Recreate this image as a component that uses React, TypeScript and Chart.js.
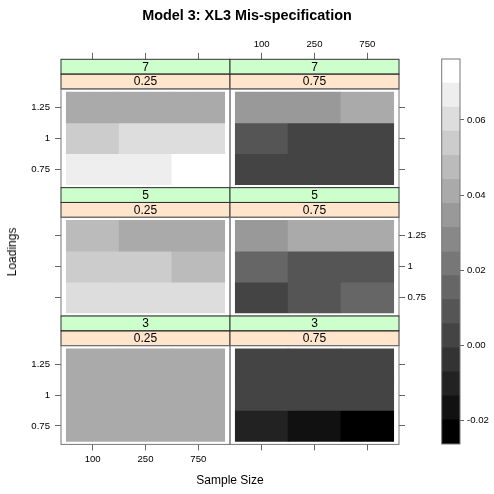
import { useEffect, useRef } from "react";
import { Chart, registerables } from "chart.js";

Chart.register(...registerables);

// ---------------- data ----------------
const sampleSizes = ["100", "250", "750"];
const loadings = [0.75, 1, 1.25];
const loadingLabels = ["0.75", "1", "1.25"];
const factorLevels = ["7", "5", "3"]; // outer strip (rows, top to bottom)
const commLevels = ["0.25", "0.75"]; // inner strip (columns, left to right)

// each: rows = loading 0.75, 1, 1.25 ; columns = sample size 100, 250, 750
const mis_7_025 = [
  [0.066, 0.065, 0.0762],
  [0.052, 0.059, 0.06],
  [0.04, 0.041, 0.04],
];
const mis_7_075 = [
  [0.002, 0.003, 0.002],
  [0.009, 0.003, 0.002],
  [0.034, 0.035, 0.041],
];
const mis_5_025 = [
  [0.06, 0.061, 0.06],
  [0.053, 0.054, 0.047],
  [0.047, 0.04, 0.041],
];
const mis_5_075 = [
  [0.003, 0.009, 0.015],
  [0.015, 0.009, 0.009],
  [0.034, 0.04, 0.041],
];
const mis_3_025 = [
  [0.041, 0.04, 0.041],
  [0.04, 0.041, 0.04],
  [0.041, 0.04, 0.041],
];
const mis_3_075 = [
  [-0.01, -0.017, -0.0262],
  [0.003, 0.002, 0.003],
  [0.003, 0.002, 0.002],
];

const colorbarTicks = [-0.02, 0, 0.02, 0.04, 0.06];
const colorbarLabels = ["-0.02", "0.00", "0.02", "0.04", "0.06"];
const nBands = 16;

// ---------------- layout / style ----------------
const SIZE = 494;
const FONT = "'Liberation Sans', Arial, Helvetica, sans-serif";
const colX = [61, 230, 399];
const gridTop = 59.3;
const gridBottom = 444.4;
const stripH = 14.8;
const rowH = (gridBottom - gridTop) / 3;
const tickFont = { family: FONT, size: 9.6 };

const panels = [
  { row: 0, col: 0, values: mis_7_025 },
  { row: 0, col: 1, values: mis_7_075 },
  { row: 1, col: 0, values: mis_5_025 },
  { row: 1, col: 1, values: mis_5_075 },
  { row: 2, col: 0, values: mis_3_025 },
  { row: 2, col: 1, values: mis_3_075 },
];

const allValues = panels.flatMap((p) => p.values.flat());
const zMin = Math.min(...allValues);
const zMax = Math.max(...allValues);
const bandOf = (v: number) =>
  Math.min(nBands - 1, Math.max(0, Math.floor(((v - zMin) / (zMax - zMin)) * nBands)));
const grayOf = (k: number) => {
  const g = Math.round((k * 255) / (nBands - 1));
  return `rgb(${g},${g},${g})`;
};

const loadStep = loadings[1] - loadings[0];

function panelDecor(p: { row: number; col: number }) {
  return {
    id: "panelDecor",
    afterDraw(chart: any) {
      const { ctx, chartArea: a } = chart;
      const w = a.right - a.left;
      const sTop = a.top - 2 * stripH;
      ctx.save();
      ctx.fillStyle = "#ccffcc";
      ctx.fillRect(a.left, sTop, w, stripH);
      ctx.fillStyle = "#ffe5cc";
      ctx.fillRect(a.left, sTop + stripH, w, stripH);
      ctx.strokeStyle = "#333";
      ctx.lineWidth = 1;
      ctx.strokeRect(a.left, sTop, w, stripH);
      ctx.strokeRect(a.left, sTop + stripH, w, stripH);
      ctx.fillStyle = "#000";
      ctx.font = `12px ${FONT}`;
      ctx.textAlign = "center";
      ctx.textBaseline = "middle";
      const cx = (a.left + a.right) / 2;
      ctx.fillText(factorLevels[p.row], cx, sTop + stripH / 2 + 0.5);
      ctx.fillText(commLevels[p.col], cx, sTop + stripH * 1.5 + 0.5);
      ctx.strokeStyle = "#777";
      ctx.strokeRect(a.left, a.top, w, a.bottom - a.top);
      ctx.restore();
    },
  };
}

function panelConfig(p: { row: number; col: number; values: number[][] }): any {
  const left = colX[p.col];
  const right = colX[p.col + 1];
  const top = gridTop + p.row * rowH + 2 * stripH;
  const bottom = gridTop + (p.row + 1) * rowH;
  const yAxisW = 40;
  const xTopH = 50;
  const xBotH = 30;
  const xPos = p.row === 0 ? "top" : p.row === 2 ? "bottom" : null;
  const yPos = p.col === 0 ? "left" : "right";
  const showX = (p.row === 0 && p.col === 1) || (p.row === 2 && p.col === 0);
  const showY = (p.col === 0 && p.row !== 1) || (p.col === 1 && p.row === 1);

  const points = p.values.flatMap((rowVals, ri) =>
    rowVals.map((v, ci) => ({
      x: ci,
      y: [loadings[ri] - loadStep / 2, loadings[ri] + loadStep / 2],
      v,
    }))
  );

  return {
    type: "bar",
    data: {
      datasets: [
        {
          data: points,
          backgroundColor: points.map((pt) => grayOf(bandOf(pt.v))),
          borderWidth: 0,
          barPercentage: 1,
          categoryPercentage: 1,
        },
      ],
    },
    options: {
      responsive: false,
      animation: false,
      devicePixelRatio: 1,
      events: [],
      layout: {
        padding: {
          left: yPos === "left" ? left - yAxisW : left,
          right: yPos === "right" ? SIZE - right - yAxisW : SIZE - right,
          top: xPos === "top" ? top - xTopH : top,
          bottom: xPos === "bottom" ? SIZE - bottom - xBotH : SIZE - bottom,
        },
      },
      plugins: { legend: { display: false }, tooltip: { enabled: false } },
      scales: {
        x: {
          type: "linear",
          display: xPos !== null,
          position: xPos ?? "bottom",
          offset: false,
          min: -0.6,
          max: sampleSizes.length - 1 + 0.6,
          afterBuildTicks: (s: any) => {
            s.ticks = sampleSizes.map((_, i) => ({ value: i }));
          },
          afterFit: (s: any) => {
            s.height = xPos === "top" ? xTopH : xPos === "bottom" ? xBotH : 0;
          },
          ticks: {
            display: showX,
            autoSkip: false,
            maxRotation: 0,
            minRotation: 0,
            font: tickFont,
            color: "#000",
            padding: xPos === "top" ? 2.4 : 3.4,
            callback: (v: number) => sampleSizes[v],
          },
          grid: {
            display: true,
            offset: false,
            drawOnChartArea: false,
            drawTicks: true,
            tickLength: xPos === "top" ? 36 : 6,
            color: "#666",
          },
          border: { display: false },
        },
        y: {
          type: "linear",
          position: yPos,
          min: loadings[0] - 0.6 * loadStep,
          max: loadings[loadings.length - 1] + 0.6 * loadStep,
          afterBuildTicks: (s: any) => {
            s.ticks = loadings.map((v) => ({ value: v }));
          },
          afterFit: (s: any) => {
            s.width = yAxisW;
          },
          ticks: {
            display: showY,
            font: tickFont,
            color: "#000",
            padding: yPos === "left" ? 5 : 2.5,
            callback: (v: number) => loadingLabels[loadings.indexOf(v)],
          },
          grid: {
            display: true,
            drawOnChartArea: false,
            drawTicks: true,
            tickLength: 6,
            color: "#666",
          },
          border: { display: false },
        },
      },
    },
    plugins: [panelDecor(p)],
  };
}

function colorbarConfig(): any {
  const step = (zMax - zMin) / nBands;
  const bands = Array.from({ length: nBands }, (_, k) => k);
  return {
    type: "bar",
    data: {
      labels: [""],
      datasets: bands.map((k) => ({
        data: [[zMin + k * step, zMin + (k + 1) * step]],
        backgroundColor: grayOf(k),
        borderWidth: 0,
        grouped: false,
        barPercentage: 1,
        categoryPercentage: 1,
      })),
    },
    options: {
      responsive: false,
      animation: false,
      devicePixelRatio: 1,
      events: [],
      layout: { padding: { left: 441.7, right: 0, top: 59, bottom: SIZE - 444 } },
      plugins: { legend: { display: false }, tooltip: { enabled: false } },
      scales: {
        x: { type: "category", display: false },
        y: {
          type: "linear",
          position: "right",
          min: zMin,
          max: zMax,
          afterBuildTicks: (s: any) => {
            s.ticks = colorbarTicks.map((v) => ({ value: v }));
          },
          afterFit: (s: any) => {
            s.width = SIZE - 460;
          },
          ticks: {
            font: tickFont,
            color: "#000",
            padding: 3,
            callback: (v: number) => colorbarLabels[colorbarTicks.indexOf(v)],
          },
          grid: {
            display: true,
            drawOnChartArea: false,
            drawTicks: true,
            tickLength: 4,
            color: "#666",
          },
          border: { display: false },
        },
      },
    },
    plugins: [
      {
        id: "cbBorder",
        afterDraw(chart: any) {
          const { ctx, chartArea: a } = chart;
          ctx.save();
          ctx.strokeStyle = "#777";
          ctx.lineWidth = 1;
          ctx.strokeRect(a.left, a.top, a.right - a.left, a.bottom - a.top);
          ctx.restore();
        },
      },
    ],
  };
}

export default function App() {
  const refs = useRef<(HTMLCanvasElement | null)[]>([]);
  const nCanvas = panels.length + 1;

  useEffect(() => {
    const configs = [...panels.map((p) => panelConfig(p)), colorbarConfig()];
    const charts = configs.map((cfg, i) => new Chart(refs.current[i] as HTMLCanvasElement, cfg));
    return () => charts.forEach((c) => c.destroy());
  }, []);

  return (
    <div
      style={{
        position: "absolute",
        left: 0,
        top: 0,
        width: SIZE,
        height: SIZE,
        background: "#fff",
        fontFamily: FONT,
        color: "#000",
        overflow: "hidden",
      }}
    >
      {Array.from({ length: nCanvas }, (_, i) => (
        <canvas
          key={i}
          ref={(el) => {
            refs.current[i] = el;
          }}
          width={SIZE}
          height={SIZE}
          style={{ position: "absolute", left: 0, top: 0 }}
        />
      ))}
      <div
        style={{
          position: "absolute",
          left: 0,
          top: 8.3,
          width: SIZE,
          textAlign: "center",
          fontSize: 14.4,
          fontWeight: "bold",
          lineHeight: 1,
          whiteSpace: "nowrap",
        }}
      >
        Model 3: XL3 Mis-specification
      </div>
      <div
        style={{
          position: "absolute",
          left: 230,
          top: 473.8,
          transform: "translateX(-50%)",
          fontSize: 12,
          lineHeight: 1,
          whiteSpace: "nowrap",
        }}
      >
        Sample Size
      </div>
      <div
        style={{
          position: "absolute",
          left: 12,
          top: 251.5,
          transform: "translate(-50%, -50%) rotate(-90deg)",
          fontSize: 12,
          lineHeight: 1,
          whiteSpace: "nowrap",
        }}
      >
        Loadings
      </div>
    </div>
  );
}
